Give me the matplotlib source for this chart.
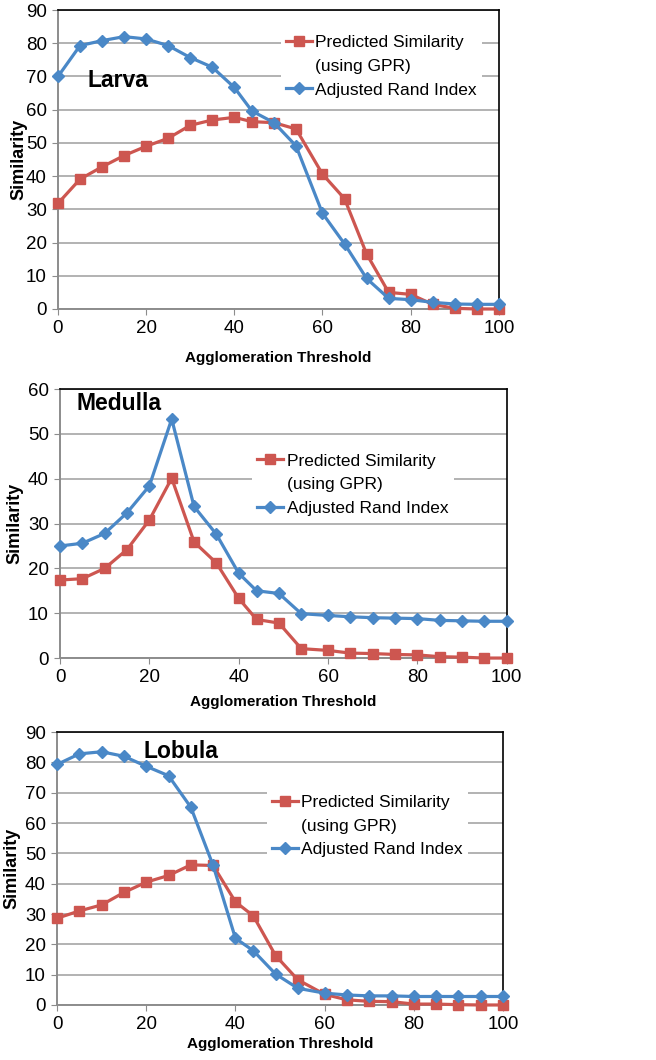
import matplotlib
matplotlib.use("Agg")
import matplotlib.pyplot as plt
from matplotlib.lines import Line2D

# agglomeration thresholds (same for all three panels)
thresholds = [0, 5, 10, 15, 20, 25, 30, 35, 40, 44, 49, 54, 60, 65, 70, 75, 80, 85, 90, 95, 100]

larva_gpr = [31.8, 39.1, 42.8, 46.2, 49.0, 51.4, 55.3, 56.9, 57.7, 56.4, 56.1, 54.2,
             40.6, 33.2, 16.6, 5.0, 4.4, 1.4, 0.2, 0.0, 0.0]
larva_ari = [70.0, 79.3, 80.8, 82.0, 81.3, 79.3, 75.7, 72.8, 66.7, 59.6, 56.1, 49.1,
             28.8, 19.6, 9.2, 3.2, 2.8, 2.0, 1.5, 1.4, 1.4]

medulla_gpr = [17.4, 17.7, 20.0, 24.2, 30.8, 40.1, 25.9, 21.2, 13.3, 8.6, 7.8, 2.1,
               1.7, 1.1, 1.0, 0.8, 0.7, 0.3, 0.2, 0.0, 0.0]
medulla_ari = [25.0, 25.6, 27.8, 32.4, 38.4, 53.3, 33.8, 27.6, 18.9, 15.0, 14.4, 9.9,
               9.5, 9.2, 9.0, 8.9, 8.8, 8.4, 8.3, 8.2, 8.2]

lobula_gpr = [28.6, 31.0, 33.0, 37.1, 40.5, 42.7, 46.2, 46.0, 34.0, 29.4, 16.3, 8.3,
              3.5, 1.7, 1.2, 1.1, 0.3, 0.3, 0.1, 0.0, 0.0]
lobula_ari = [79.3, 82.8, 83.5, 82.0, 78.7, 75.6, 65.2, 46.0, 22.0, 17.9, 10.2, 5.5,
              3.9, 3.3, 3.0, 3.0, 2.8, 2.8, 2.8, 2.8, 2.8]

names = ["Larva", "Medulla", "Lobula"]
ymaxes = [90, 60, 90]

RED = "#CD5650"
BLUE = "#4A88C7"
GRID = "#A6A6A6"

plt.rcParams["font.family"] = ["Liberation Sans", "DejaVu Sans"]

fig = plt.figure(figsize=(6.56, 10.6), dpi=100)

# axes boxes in figure fractions (left, bottom, width, height)
boxes = [
    [0.0884, 0.7085, 0.672, 0.282],
    [0.0915, 0.3792, 0.681, 0.2538],
    [0.0869, 0.0519, 0.680, 0.2575],
]
title_pos = [(0.068, 0.765), (0.038, 0.948), (0.193, 0.93)]
legend_pos = [(0.505, 0.935), (0.43, 0.78), (0.47, 0.79)]
ylab_x = [-0.088, -0.1, -0.1]
xlab_y = [-0.164, -0.164, -0.143]

series = [(larva_gpr, larva_ari), (medulla_gpr, medulla_ari), (lobula_gpr, lobula_ari)]

for i, (gpr, ari) in enumerate(series):
    ax = fig.add_axes(boxes[i])
    ax.set_xlim(0, 100)
    ax.set_ylim(0, ymaxes[i])
    ax.set_xticks(range(0, 101, 20))
    ax.set_yticks(range(0, ymaxes[i] + 1, 10))
    ax.yaxis.grid(True, color=GRID, linewidth=1.2)
    ax.set_axisbelow(True)

    red_line, = ax.plot(thresholds, gpr, color=RED, linewidth=2.3, marker="s",
                        markersize=7, clip_on=False, zorder=3)
    blue_line, = ax.plot(thresholds, ari, color=BLUE, linewidth=2.3, marker="D",
                         markersize=6, clip_on=False, zorder=4)

    for side in ["top", "right"]:
        ax.spines[side].set_color("black")
        ax.spines[side].set_linewidth(1.2)
    for side in ["left", "bottom"]:
        ax.spines[side].set_color("#8C8C8C")
        ax.spines[side].set_linewidth(1.4)
    ax.tick_params(axis="both", direction="out", length=4, color="#8C8C8C",
                   labelsize=13.5, pad=4)

    ax.set_ylabel("Similarity", fontsize=13, fontweight="bold")
    ax.yaxis.set_label_coords(ylab_x[i], 0.5)
    ax.yaxis.label.set_va("center")
    ax.set_xlabel("Agglomeration Threshold", fontsize=11, fontweight="bold")
    ax.xaxis.set_label_coords(0.5, xlab_y[i])
    ax.xaxis.label.set_va("center")

    ax.text(title_pos[i][0], title_pos[i][1], names[i], transform=ax.transAxes,
            fontsize=16.5, fontweight="bold", ha="left", va="center", zorder=6)

    blank = Line2D([], [], linestyle="none")
    leg = ax.legend([red_line, blank, blue_line],
                    ["Predicted Similarity", "(using GPR)", "Adjusted Rand Index"],
                    loc="upper left", bbox_to_anchor=legend_pos[i], fontsize=12.5,
                    frameon=True, facecolor="white", edgecolor="none", framealpha=1,
                    fancybox=False, handlelength=1.5, handletextpad=0.2,
                    labelspacing=0.5, borderpad=0.3, borderaxespad=0)
    leg.set_zorder(5)

fig.savefig("out.png", dpi=100)
